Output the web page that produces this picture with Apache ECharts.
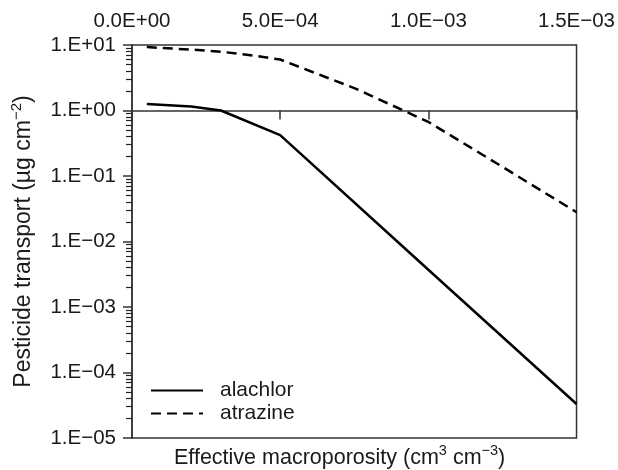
<!DOCTYPE html>
<html>
<head>
<meta charset="utf-8">
<script src="https://cdn.jsdelivr.net/npm/echarts@6/dist/echarts.min.js"></script>
<style>html,body{margin:0;padding:0;background:#fff;}#c{width:618px;height:470px;}</style>
</head>
<body>
<div id="c"></div>
<script>
// ---- data ----
const xTicks = [0, 5e-4, 1e-3, 1.5e-3];
const yTicks = [1e-5, 1e-4, 1e-3, 1e-2, 1e-1, 1, 10];
const alachlorX = [5e-5, 2e-4, 3e-4, 5e-4, 1e-3, 1.5e-3];
const alachlorY = [1.26, 1.15, 1.0, 0.42, 3.7e-3, 3.3e-5];
const atrazineX = [5e-5, 1e-4, 2e-4, 3e-4, 4e-4, 5e-4, 7.5e-4, 1e-3, 1.25e-3, 1.5e-3];
const atrazineY = [9.3, 9.0, 8.5, 7.9, 7.0, 6.0, 2.2, 0.67, 0.138, 0.028];
const seriesNames = ['alachlor', 'atrazine'];

const FONT = 'Liberation Sans, Arial, Helvetica, sans-serif';
const INK = '#1a1a1a';
function fmtX(v) {
  let s = v.toExponential(1).toUpperCase();
  const m = s.match(/^(.*)E([+-])(\d+)$/);
  const e = m[3].padStart(2, '0');
  return m[1] + 'E' + (m[2] === '-' ? '\u2212' : '+') + e;
}
function fmtY(v) {
  const e = Math.round(Math.log10(v));
  return '1.E' + (e < 0 ? '\u2212' : '+') + String(Math.abs(e)).padStart(2, '0');
}
// minor log ticks: 2..9 within each decade
const minorTicks = [];
for (let d = -5; d < 1; d++) for (let k = 2; k <= 9; k++) minorTicks.push(k * Math.pow(10, d));

const chart = echarts.init(document.getElementById('c'), null, {renderer: 'canvas'});
chart.setOption({
  animation: false,
  backgroundColor: '#fff',
  textStyle: {fontFamily: FONT},
  grid: {left: 132, right: 40, top: 45, bottom: 32, show: true, borderColor: '#333', borderWidth: 1.5, backgroundColor: 'transparent'},
  title: {
    text: '{a|Effective macroporosity (cm}{s|3}{a| cm}{s|\u22123}{a|)}',
    left: 174, top: 443, padding: 0,
    textStyle: {fontWeight: 'normal', rich: {
      a: {fontFamily: FONT, fontSize: 21.5, color: INK, lineHeight: 26, verticalAlign: 'bottom'},
      s: {fontFamily: FONT, fontSize: 14.5, color: INK, lineHeight: 26, verticalAlign: 'top'}
    }}
  },
  legend: {
    data: seriesNames, orient: 'vertical', left: 150, top: 379, padding: 0,
    itemWidth: 52, itemHeight: 14, itemGap: 0,
    itemStyle: {color: 'transparent', borderColor: 'transparent', borderWidth: 0},
    textStyle: {fontFamily: FONT, fontSize: 21, lineHeight: 23, color: INK, padding: [0, 0, 0, 12]}
  },
  xAxis: [{
    type: 'value', position: 'top', min: 0, max: 1.5e-3, interval: 5e-4,
    axisLine: {show: false}, axisTick: {show: false}, splitLine: {show: false},
    axisLabel: {formatter: fmtX, fontFamily: FONT, fontSize: 20.5, color: INK, margin: 13}
  }, {
    type: 'value', position: 'top', offset: -65.5, min: 0, max: 1.5e-3, interval: 5e-4,
    axisLine: {show: true, lineStyle: {color: '#333', width: 1.5}},
    axisTick: {show: true, inside: true, length: 9, lineStyle: {color: '#333', width: 1.5}},
    axisLabel: {show: false}, splitLine: {show: false}
  }],
  yAxis: [{
    type: 'log', logBase: 10, min: yTicks[0], max: yTicks[yTicks.length - 1], interval: 1,
    name: '{a|Pesticide transport (\u00b5g cm}{s|\u22122}{a|)}',
    nameLocation: 'middle', nameGap: 97,
    nameTextStyle: {rich: {
      a: {fontFamily: FONT, fontSize: 23, color: INK, lineHeight: 26, verticalAlign: 'bottom'},
      s: {fontFamily: FONT, fontSize: 15, color: INK, lineHeight: 26, verticalAlign: 'top'}
    }},
    axisLine: {show: true, lineStyle: {color: '#333', width: 1.5}},
    axisTick: {show: true, length: 9, lineStyle: {color: '#333', width: 1.5}},
    splitLine: {show: false},
    axisLabel: {formatter: fmtY, fontFamily: FONT, fontSize: 20.5, color: INK, margin: 16}
  }, {
    type: 'log', logBase: 10, min: yTicks[0], max: yTicks[yTicks.length - 1], position: 'left',
    axisLine: {show: true, lineStyle: {color: 'rgba(0,0,0,0)'}},
    axisTick: {show: true, length: 6, customValues: minorTicks, lineStyle: {color: '#222', width: 1.2}},
    axisLabel: {show: false}, splitLine: {show: false}
  }],
  series: [{
    name: seriesNames[0], type: 'line', symbol: 'none',
    data: alachlorX.map((x, i) => [x, alachlorY[i]]),
    lineStyle: {color: '#000', width: 2.5}, itemStyle: {color: '#000'}
  }, {
    name: seriesNames[1], type: 'line', symbol: 'none',
    data: atrazineX.map((x, i) => [x, atrazineY[i]]),
    lineStyle: {color: '#000', width: 2.5, type: [10, 6]}, itemStyle: {color: '#000'}
  }]
});
</script>
</body>
</html>
